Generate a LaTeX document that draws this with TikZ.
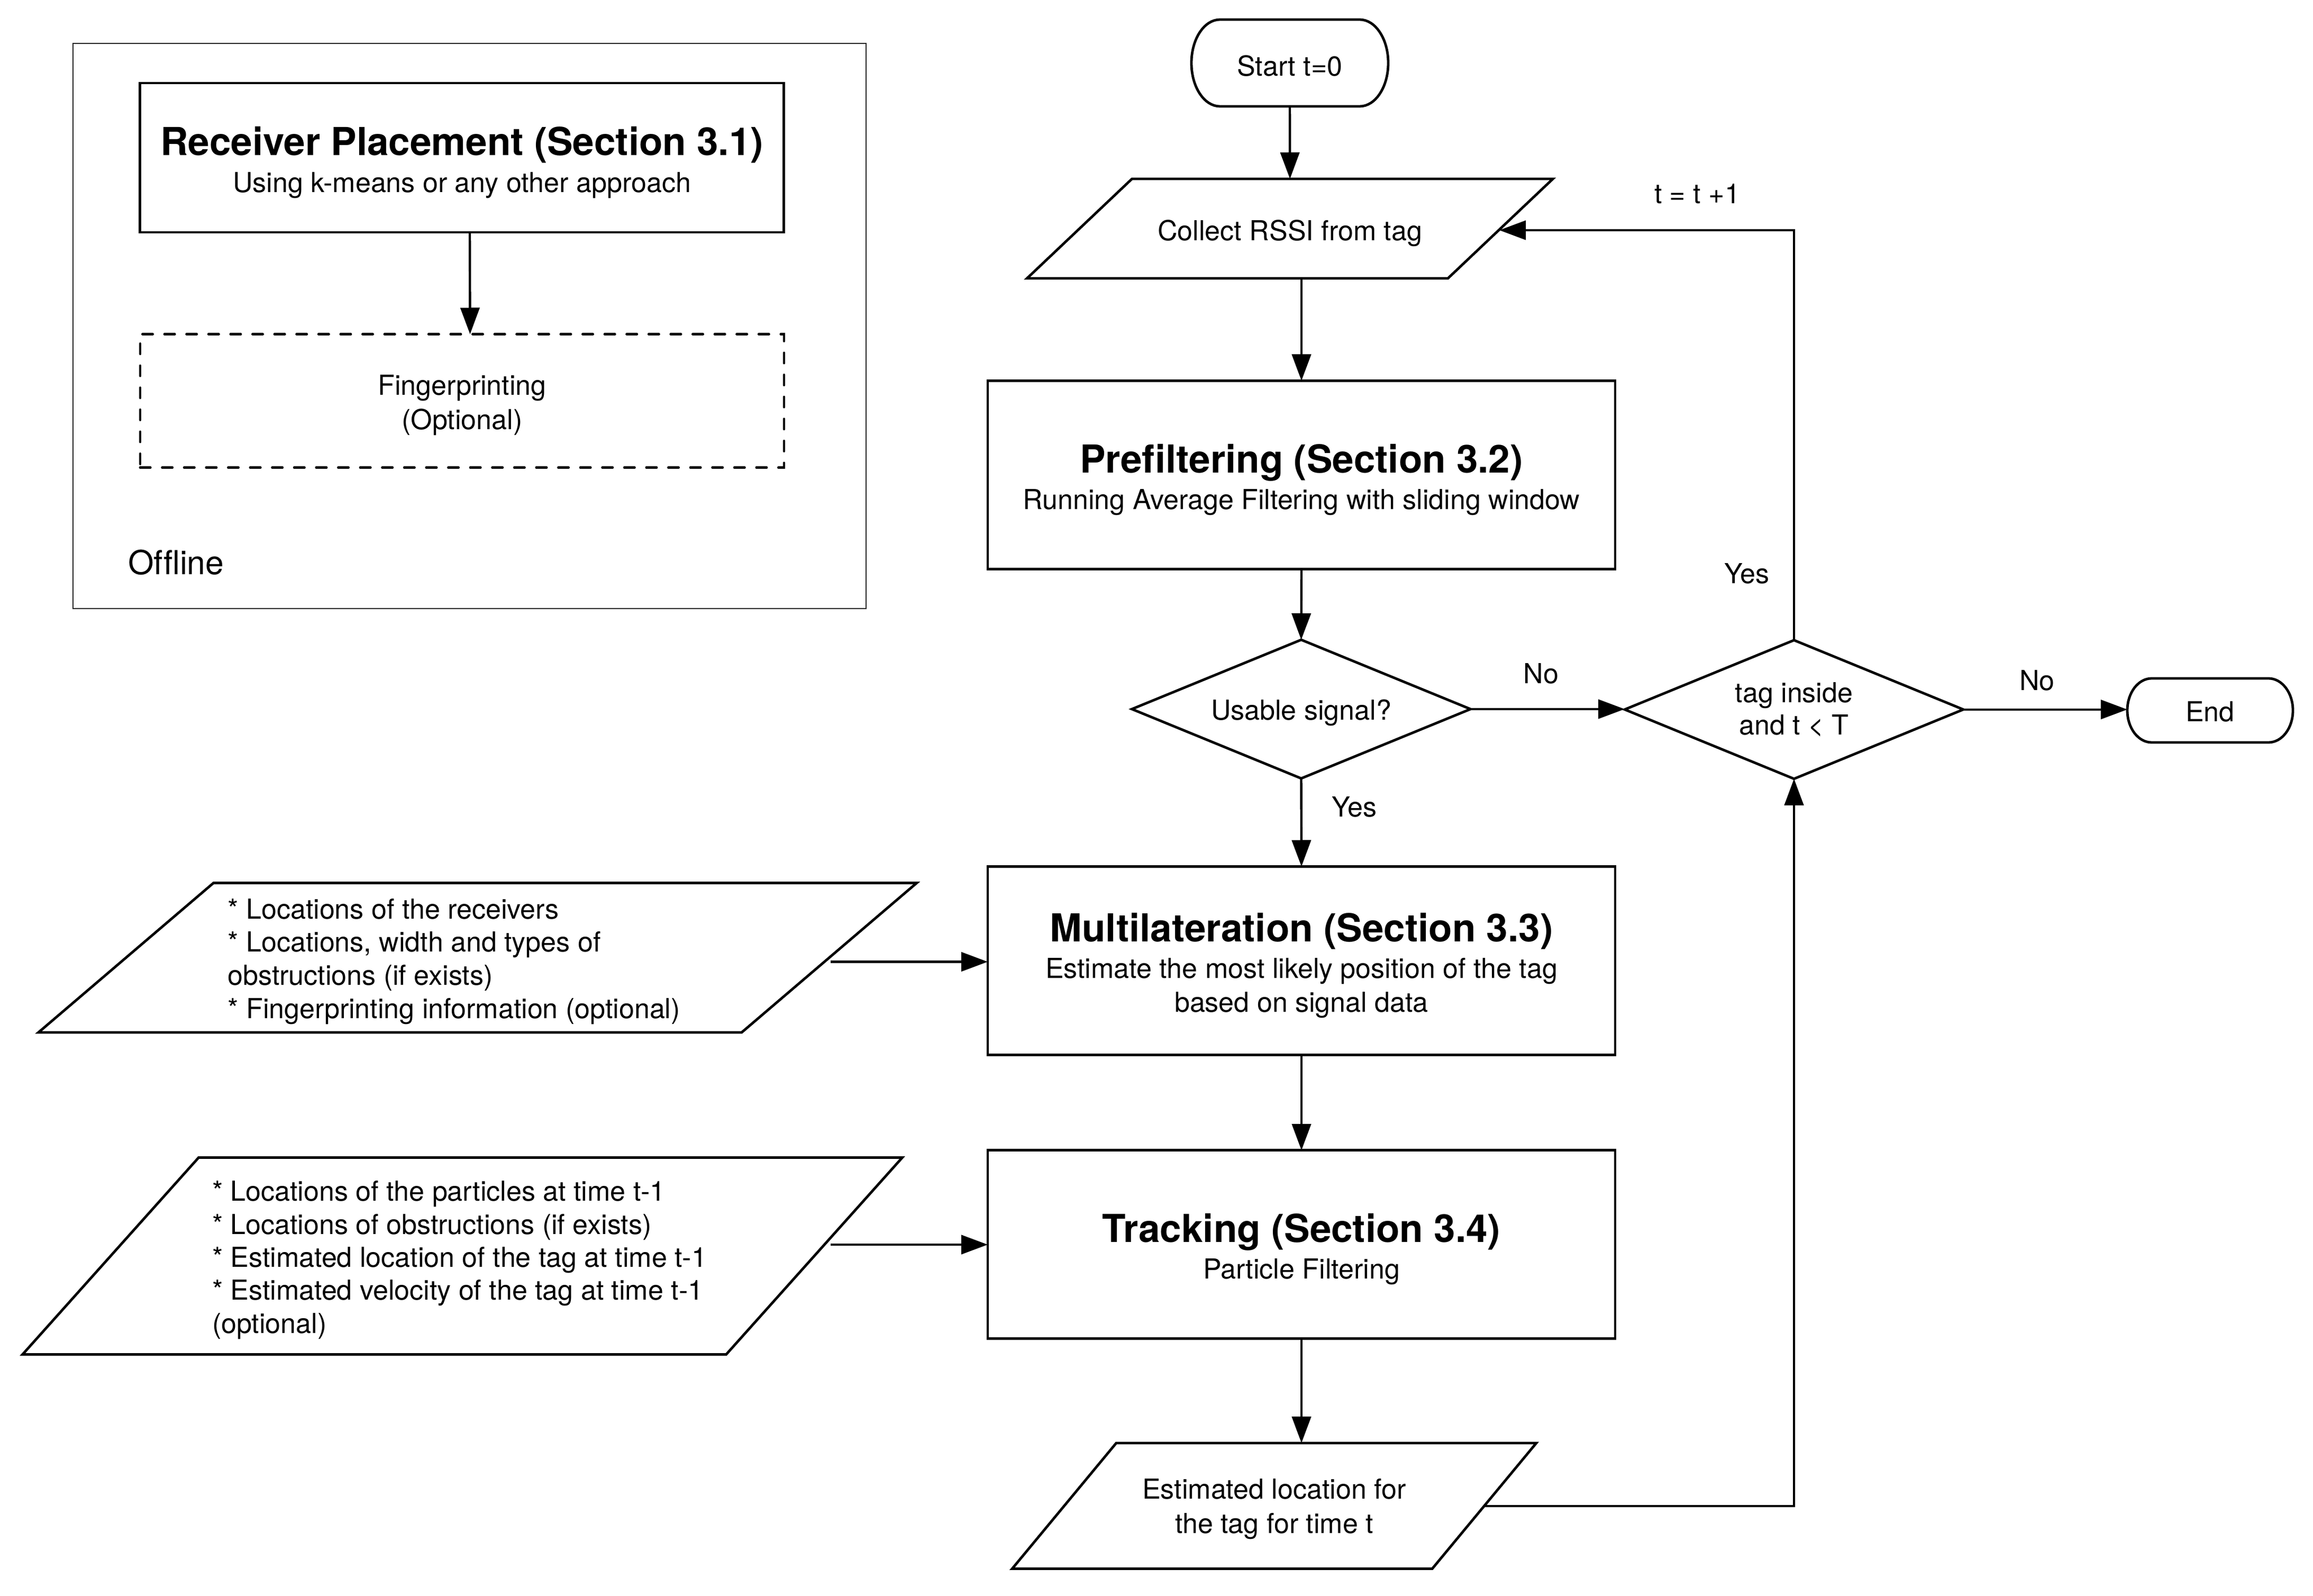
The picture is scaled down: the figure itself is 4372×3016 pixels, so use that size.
\documentclass[tikz,border=0pt]{standalone}
\usepackage{fontspec}
\setmainfont{TeX Gyre Heros}[Ligatures=NoCommon]
\usetikzlibrary{shapes.geometric,arrows.meta}
\newcommand{\bxtitle}[1]{{\fontsize{18.2}{16}\selectfont\bfseries\rule{0pt}{18.1pt}#1}}
\newcommand{\lift}[1]{\rule{0pt}{#1}}
\newcommand{\drawpara}[2]{\draw[shp] ([xshift=#2]#1.north west) -- ([xshift=#2]#1.north east) -- ([xshift=-#2]#1.south east) -- ([xshift=-#2]#1.south west) -- cycle;}
\newcommand{\drawstadium}[3]{\draw[shp] ([xshift=#2]#1.north west) -- ([xshift=-#2]#1.north east) arc[start angle=90,end angle=-90,x radius=#2,y radius=#3] -- ([xshift=#2]#1.south west) arc[start angle=270,end angle=90,x radius=#2,y radius=#3] -- cycle;}
\begin{document}
\begin{tikzpicture}[x=0.25pt,y=-0.25pt,
  every node/.style={inner sep=0pt,outer sep=0pt,font=\fontsize{13}{16}\selectfont},
  shp/.style={draw=black,line width=1.2pt,line join=miter},
  conn/.style={line width=1.1pt,-{Triangle[length=12.5pt,width=9pt]}},
  procbox/.style={shp,rectangle,minimum width=296.5pt,minimum height=89pt,align=center},
  decision/.style={shp,diamond,aspect=2.45,minimum width=160pt,minimum height=65.5pt,align=center},
  plain/.style={rectangle,align=center}
]
\useasboundingbox (0,0) rectangle (4372,3016);

% ---------- Offline part ----------
\node[draw=black!85,line width=0.55pt,minimum width=374.75pt,minimum height=267pt] (offline) at (887.5,616) {};
\node[anchor=base west,font=\fontsize{15.6}{18}\selectfont] (offlinelbl) at (242,1085.7) {Offline};
\node[shp,rectangle,minimum width=304.4pt,minimum height=70.5pt,align=center] (recv) at (873,298)
  {\bxtitle{Receiver Placement (Section 3.1)}\\[1.3pt]Using k-means or any other approach};
\node[shp,rectangle,dash pattern=on 4.8pt off 5.6pt,line cap=round,minimum width=304.25pt,minimum height=63pt,align=center,font=\fontsize{13}{16.25}\selectfont] (finger) at (873.5,757.5)
  {\lift{13.5pt}Fingerprinting\\(Optional)};
\draw[conn] ([xshift=3.75pt]recv.south) -- ([xshift=3.75pt]finger.north);

% ---------- Main flow ----------
\node[plain,minimum width=93pt,minimum height=41pt] (start) at (2438,119) {\lift{12.3pt}Start t=0};
\drawstadium{start}{13.5pt}{20.5pt}

\node[plain,minimum width=198.9pt,minimum height=47pt] (collect) at (2438.25,432) {\lift{14pt}Collect RSSI from tag};
\drawpara{collect}{24.8pt}

\node[procbox] (prefilter) at (2460,897.5)
  {\bxtitle{Prefiltering (Section 3.2)}\\[1.3pt]Running Average Filtering with sliding window};

\node[decision] (usable) at (2459.5,1340) {\lift{12.9pt}Usable signal?};
\node[decision,font=\fontsize{13}{15.3}\selectfont] (tag) at (3391,1340.75) {tag inside\\and t < T};

\node[plain,minimum width=78.25pt,minimum height=30.25pt] (endn) at (4177.5,1342.5) {\lift{10.9pt}End};
\drawstadium{endn}{11.5pt}{15.125pt}

\node[procbox] (multi) at (2460,1815.5)
  {\bxtitle{Multilateration (Section 3.3)}\\[1.3pt]Estimate the most likely position of the tag\\based on signal data};
\node[procbox] (track) at (2460,2351.75)
  {\bxtitle{Tracking (Section 3.4)}\\[1.3pt]Particle Filtering};

\node[plain,minimum width=198.5pt,minimum height=59.4pt,font=\fontsize{13}{16.25}\selectfont] (est) at (2408.5,2845.75)
  {\lift{12.3pt}Estimated location for\\the tag for time t};
\drawpara{est}{24.6pt}

% ---------- Inputs ----------
\node[plain,minimum width=332.3pt,minimum height=70.6pt] (in1) at (902.75,1809.75) {};
\drawpara{in1}{41.35pt}
\node[anchor=north west,align=left,font=\fontsize{13}{15.7}\selectfont] (in1txt) at (430.6,1698)
  {* Locations of the receivers\\* Locations, width and types of\\obstructions (if exists)\\* Fingerprinting information (optional)};

\node[plain,minimum width=332.5pt,minimum height=93pt] (in2) at (874,2373.55) {};
\drawpara{in2}{41.6pt}
\node[anchor=north west,align=left,font=\fontsize{13}{15.6}\selectfont] (in2txt) at (401,2231.6)
  {* Locations of the particles at time t-1\\* Locations of obstructions (if exists)\\* Estimated location of the tag at time t-1\\* Estimated velocity of the tag at time t-1\\(optional)};

% ---------- Connectors ----------
\coordinate (collectR) at (2834,435);
\coordinate (in1out) at (1570,1817.5);
\coordinate (in2out) at (1570,2352);

\draw[conn] (start.south) -- (collect.north);
\draw[conn] (prefilter.north |- collect.south) -- (prefilter.north);
\draw[conn] (prefilter.south) -- (usable.north);
\draw[conn] (usable.east) -- (usable.east -| tag.west);
\draw[conn] (tag.east) -- (tag.east -| endn.west);
\draw[conn] (usable.south) -- (multi.north);
\draw[conn] (multi.south) -- (track.north);
\draw[conn] (track.south) -- (track.south |- est.north);
\draw[conn] (est.east) -| (tag.south);
\draw[conn] (tag.north) |- (collectR);
\draw[conn] (in1out) -- (in1out -| multi.west);
\draw[conn] (in2out) -- (in2out -| track.west);

% ---------- Labels ----------
\node (nolbl1) at (2913,1273) {No};
\node (yeslbl1) at (2560,1525) {Yes};
\node (nolbl2) at (3850.5,1285.5) {No};
\node (yeslbl2) at (3301.5,1084) {Yes};
\node (tlbl) at (3208,366) {t = t +1};
\end{tikzpicture}
\end{document}
